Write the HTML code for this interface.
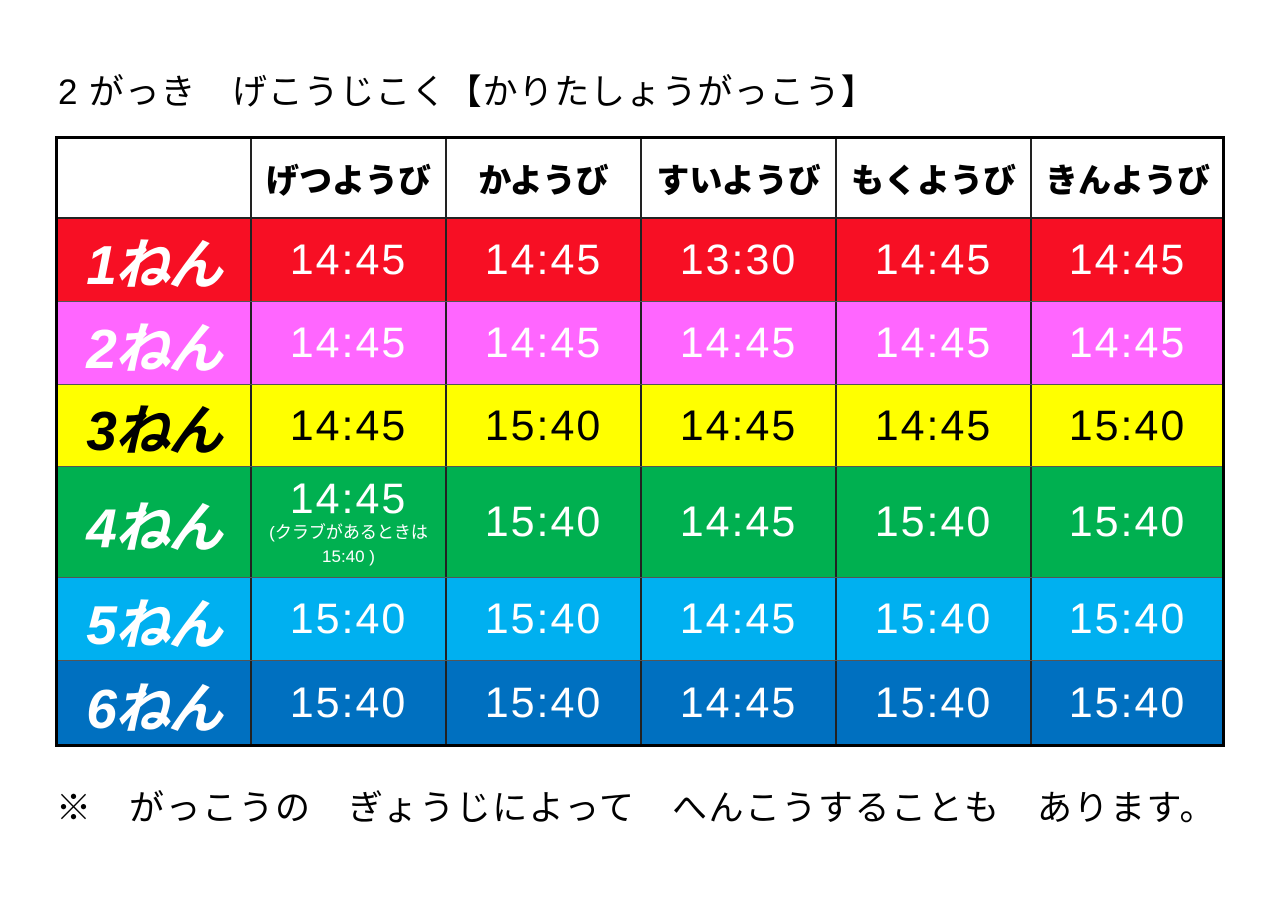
<!DOCTYPE html>
<html><head><meta charset="utf-8"><style>
body{margin:0;width:1279px;height:904px;background:#fff;position:relative;overflow:hidden;font-family:"Liberation Sans","Noto Sans CJK JP",sans-serif;}
.t{position:absolute;white-space:nowrap;color:#000;}
.c{position:absolute;display:flex;align-items:center;justify-content:center;flex-direction:column;box-sizing:border-box;}
.tm{font-size:43px;color:#fff;letter-spacing:2px;}
.lb{font-size:55px;font-weight:bold;font-style:italic;color:#fff;letter-spacing:-2px;}
.hd{font-size:33px;font-weight:900;color:#000;background:#fff;}
.v{position:absolute;background:#222;}
.h{position:absolute;background:#555;height:1px;}
</style></head><body>
<div class="t" style="left:58px;top:64px;font-size:35px;letter-spacing:0.8px;">2 がっき　げこうじこく【かりたしょうがっこう】</div>
<div id="tbl"></div>
<div class="t" style="left:56px;top:780px;font-size:35px;letter-spacing:1.5px;">※　がっこうの　ぎょうじによって　へんこうすることも　あります。</div>
<script>
const xs=[56,251,446,641,836,1031,1224];
const ys=[137,218,302,385,467,578,661,746];
const cols=["#f70f24","#ff66ff","#ffff00","#00b050","#00b0f0","#0070c0"];
const days=["げつようび","かようび","すいようび","もくようび","きんようび"];
const data=[["14:45","14:45","13:30","14:45","14:45"],["14:45","14:45","14:45","14:45","14:45"],["14:45","15:40","14:45","14:45","15:40"],["X","15:40","14:45","15:40","15:40"],["15:40","15:40","14:45","15:40","15:40"],["15:40","15:40","14:45","15:40","15:40"]];
let h="";
for(let c=0;c<6;c++){h+=`<div class="c hd" style="left:${xs[c]}px;top:${ys[0]}px;width:${xs[c+1]-xs[c]}px;height:${ys[1]-ys[0]}px">${c?days[c-1]:""}</div>`;}
for(let r=0;r<6;r++){
 const fg=r==2?"#000":"#fff";
 for(let c=0;c<6;c++){
  let txt;
  if(c==0) txt=`<span class="lb" style="color:${fg}">${r+1}ねん</span>`;
  else if(data[r][c-1]=="X") txt=`<span class="tm" style="line-height:42px">14:45</span><span style="font-size:17px;color:#fff;line-height:26px">(クラブがあるときは</span><span style="font-size:17px;color:#fff;line-height:22px">15:40 )</span>`;
  else txt=`<span class="tm" style="color:${fg}">${data[r][c-1]}</span>`;
  h+=`<div class="c" style="left:${xs[c]}px;top:${ys[r+1]}px;width:${xs[c+1]-xs[c]}px;height:${ys[r+2]-ys[r+1]}px;background:${cols[r]}">${txt}</div>`;
 }
}
for(let i=1;i<6;i++) h+=`<div class="v" style="left:${xs[i]-1}px;top:${ys[0]}px;width:2px;height:${ys[7]-ys[0]}px"></div>`;
for(let i=1;i<7;i++) h+=`<div class="${i==1?'v':'h'}" style="left:${xs[0]}px;top:${ys[i]-1}px;width:${xs[6]-xs[0]}px;height:${i==1?2:1}px"></div>`;
h+=`<div style="position:absolute;left:${xs[0]-1}px;top:${ys[0]-1}px;width:${xs[6]-xs[0]-4}px;height:${ys[7]-ys[0]-4}px;border:3px solid #000"></div>`;
document.getElementById("tbl").innerHTML=h;
</script>
</body></html>
